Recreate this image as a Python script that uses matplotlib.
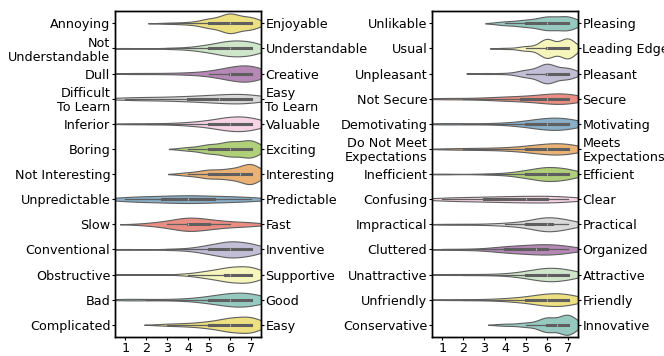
import numpy as np
import pandas as pd
import matplotlib
matplotlib.use("Agg")
import matplotlib.pyplot as plt
import seaborn as sns

scale = [1, 2, 3, 4, 5, 6, 7]

left_neg = ["Annoying", "Not\nUnderstandable", "Dull", "Difficult\nTo Learn", "Inferior",
            "Boring", "Not Interesting", "Unpredictable", "Slow", "Conventional",
            "Obstructive", "Bad", "Complicated"]
left_pos = ["Enjoyable", "Understandable", "Creative", "Easy\nTo Learn", "Valuable",
            "Exciting", "Interesting", "Predictable", "Fast", "Inventive",
            "Supportive", "Good", "Easy"]
# response counts for scale values 1..7
left_counts = [
    [0, 0, 1, 2, 8, 18, 11],
    [1, 0, 1, 2, 7, 15, 14],
    [1, 1, 1, 2, 4, 12, 19],
    [3, 3, 3, 5, 6, 9, 11],
    [1, 1, 1, 3, 6, 14, 14],
    [0, 0, 0, 3, 8, 13, 16],
    [0, 0, 0, 3, 8, 9, 20],
    [5, 5, 6, 8, 6, 5, 5],
    [0, 2, 6, 14, 9, 5, 4],
    [1, 0, 1, 2, 8, 16, 12],
    [1, 0, 0, 2, 7, 14, 16],
    [2, 1, 1, 2, 6, 13, 15],
    [0, 0, 2, 3, 6, 13, 16],
]
left_colors = ["#ffed6f", "#ccebc5", "#bc80bd", "#d9d9d9", "#fccde5", "#b3de69", "#fdb462",
               "#80b1d3", "#fb8072", "#bebada", "#ffffb3", "#8dd3c7", "#ffed6f"]

right_neg = ["Unlikable", "Usual", "Unpleasant", "Not Secure", "Demotivating",
             "Do Not Meet\nExpectations", "Inefficient", "Confusing", "Impractical",
             "Cluttered", "Unattractive", "Unfriendly", "Conservative"]
right_pos = ["Pleasing", "Leading Edge", "Pleasant", "Secure", "Motivating",
             "Meets\nExpectations", "Efficient", "Clear", "Practical", "Organized",
             "Attractive", "Friendly", "Innovative"]
right_counts = [
    [0, 0, 0, 4, 7, 14, 15],
    [0, 0, 0, 1, 4, 17, 18],
    [0, 0, 1, 1, 7, 20, 11],
    [2, 1, 2, 5, 5, 10, 15],
    [2, 1, 1, 2, 6, 14, 14],
    [1, 2, 2, 3, 6, 12, 14],
    [1, 0, 1, 2, 8, 16, 12],
    [4, 4, 5, 6, 7, 7, 7],
    [1, 1, 1, 3, 6, 18, 10],
    [1, 1, 2, 7, 9, 12, 8],
    [1, 1, 1, 2, 7, 16, 12],
    [1, 1, 1, 3, 6, 14, 14],
    [0, 0, 0, 2, 4, 14, 20],
]
right_colors = ["#8dd3c7", "#ffffb3", "#bebada", "#fb8072", "#80b1d3", "#fdb462", "#b3de69",
                "#fccde5", "#d9d9d9", "#bc80bd", "#ccebc5", "#ffed6f", "#8dd3c7"]

FS = 9.2


def long_frame(names, counts):
    rows = []
    for name, cnt in zip(names, counts):
        for v, c in zip(scale, cnt):
            rows.extend([(name, v)] * c)
    return pd.DataFrame(rows, columns=["item", "value"])


def panel(ax, neg, pos, counts, colors):
    df = long_frame(neg, counts)
    pal = dict(zip(neg, colors))
    sns.violinplot(data=df, x="value", y="item", hue="item", order=neg, hue_order=neg,
                   palette=pal, inner="box", legend=False, common_norm=True,
                   linewidth=0.8, inner_kws=dict(box_width=2.2, whis_width=0.9),
                   ax=ax)
    ax.set_xlim(0.5, 7.5)
    ax.set_ylim(len(neg) - 0.5, -0.5)
    ax.set_xlabel("")
    ax.set_ylabel("")
    ax.set_xticks(scale)
    ax.set_xticklabels([str(s) for s in scale], fontsize=FS)
    ax.set_yticks(range(len(neg)))
    ax.set_yticklabels(neg, fontsize=FS, linespacing=1.1)
    ax.tick_params(axis="both", length=2.2, width=0.8, pad=1.2)
    ax2 = ax.twinx()
    ax2.set_ylim(ax.get_ylim())
    ax2.set_yticks(range(len(pos)))
    ax2.set_yticklabels(pos, fontsize=FS, linespacing=1.1)
    ax2.tick_params(axis="y", length=2.2, width=0.8, pad=1.0)
    for a in (ax, ax2):
        for s in a.spines.values():
            s.set_linewidth(1.0)
            s.set_color("black")


fig = plt.figure(figsize=(6.64, 3.56), dpi=100)
axL = fig.add_axes([0.1732, 0.0525, 0.2199, 0.9174])
axR = fig.add_axes([0.6506, 0.0525, 0.2199, 0.9174])
panel(axL, left_neg, left_pos, left_counts, left_colors)
panel(axR, right_neg, right_pos, right_counts, right_colors)
fig.savefig("out.png", dpi=100)
